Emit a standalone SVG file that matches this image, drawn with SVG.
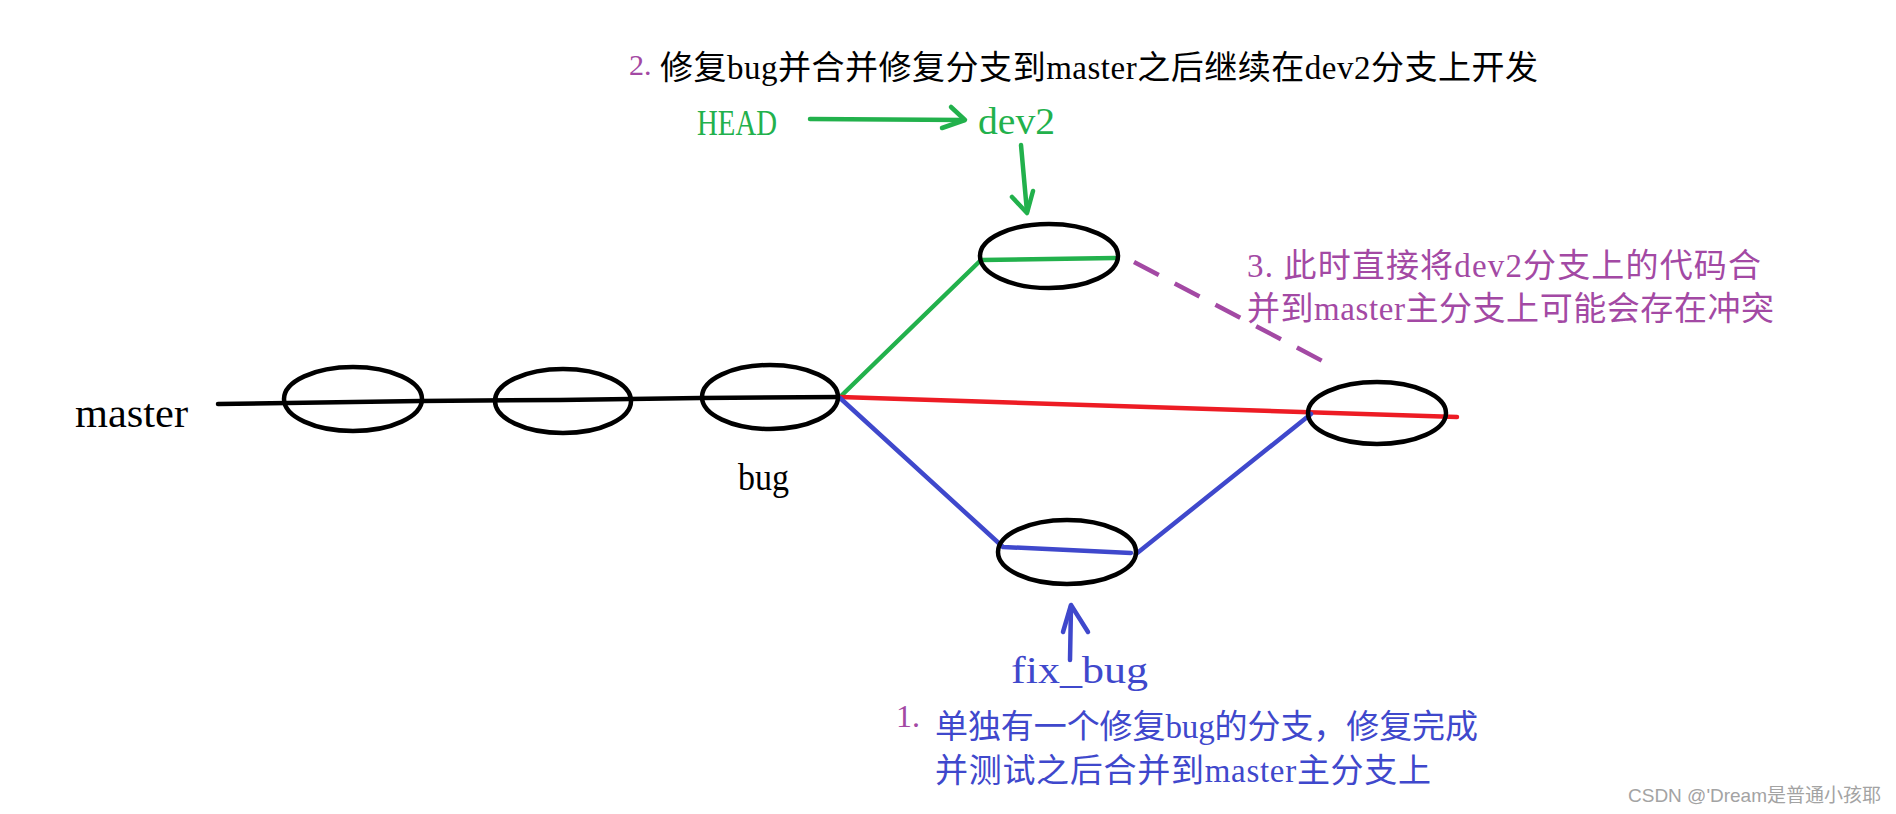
<svg xmlns="http://www.w3.org/2000/svg" width="1896" height="814" viewBox="0 0 1896 814">
<style>
.bg{fill:#ffffff}
.node{fill:none;stroke:#000000;stroke-width:4.5}
.ln{fill:none;stroke-width:4.5;stroke-linecap:round;stroke-linejoin:round}
.blk{stroke:#000000}
.grn{stroke:#22b14c}
.red{stroke:#ed1c24}
.blu{stroke:#3f48cc}
.pur{stroke:#a349a4;stroke-dasharray:28 18;stroke-linecap:butt}
.t{font-family:"Liberation Serif","Noto Sans CJK SC",serif}
.lbl{font-family:"Liberation Serif","Noto Sans CJK SC",serif}
.wm{font-family:"Liberation Sans","Noto Sans CJK SC",sans-serif;font-size:19px;fill:#a3a3a3}
</style>
<rect class="bg" x="0" y="0" width="1896" height="814"/>
<g id="connectors">
  <polyline class="ln blk" points="218,404 420,401 560,400 700,398 840,397"/>
  <polyline class="ln grn" points="840,397 981,260 1115,258"/>
  <polyline class="ln red" points="840,397 1457,417"/>
  <polyline class="ln blu" points="840,398 1003,547 1131,553"/>
  <polyline class="ln blu" points="1136,554 1311,414"/>
  <line class="ln pur" x1="1134" y1="262" x2="1330" y2="365"/>
  <line class="ln grn" x1="810" y1="119" x2="964" y2="120"/>
  <polyline class="ln grn" points="951,107 965,120 942,128"/>
  <line class="ln grn" x1="1021" y1="145" x2="1027" y2="212"/>
  <polyline class="ln grn" points="1012,197 1027,213 1033,191"/>
  <line class="ln blu" x1="1070" y1="660" x2="1071" y2="606"/>
  <polyline class="ln blu" points="1063,632 1071,605 1088,632"/>
</g>
<g id="c1"><ellipse class="node" cx="353" cy="399" rx="69" ry="32"/></g>
<g id="c2"><ellipse class="node" cx="563" cy="401" rx="68" ry="32"/></g>
<g id="c3-bug"><ellipse class="node" cx="770" cy="397" rx="68" ry="32"/></g>
<g id="c-dev2"><ellipse class="node" cx="1049" cy="256" rx="69" ry="32"/></g>
<g id="c-merge"><ellipse class="node" cx="1377" cy="413" rx="69" ry="31"/></g>
<g id="c-fixbug"><ellipse class="node" cx="1067" cy="552" rx="69" ry="32"/></g>
<g id="labels">
  <text class="lbl" x="75" y="427" font-size="40" textLength="113" lengthAdjust="spacingAndGlyphs" fill="#000000">master</text>
  <text class="lbl" x="738" y="490" font-size="37" textLength="51" lengthAdjust="spacingAndGlyphs" fill="#000000">bug</text>
  <text class="lbl" x="697" y="135" font-size="36" textLength="80" lengthAdjust="spacingAndGlyphs" fill="#22b14c">HEAD</text>
  <text class="lbl" x="978" y="134" font-size="37" textLength="77" lengthAdjust="spacingAndGlyphs" fill="#22b14c">dev2</text>
  <text class="lbl" x="1011" y="683" font-size="38" textLength="137" lengthAdjust="spacingAndGlyphs" fill="#3f48cc">fix_bug</text>
</g>
<g id="note2">
  <text class="t" x="629" y="75" font-size="30" fill="#a349a4">2.</text>
  <text class="t" x="660" y="79" font-size="33" textLength="878" fill="#000000">修复bug并合并修复分支到master之后继续在dev2分支上开发</text>
</g>
<g id="note3">
  <text class="t" x="1247" y="277" font-size="33" textLength="514" fill="#a349a4">3. 此时直接将dev2分支上的代码合</text>
  <text class="t" x="1247" y="320" font-size="33" textLength="527" fill="#a349a4">并到master主分支上可能会存在冲突</text>
</g>
<g id="note1">
  <text class="t" x="896" y="727" font-size="32" fill="#a349a4">1.</text>
  <text class="t" x="935" y="738" font-size="33" textLength="543" fill="#3f48cc">单独有一个修复bug的分支，修复完成</text>
  <text class="t" x="935" y="782" font-size="33" textLength="496" fill="#3f48cc">并测试之后合并到master主分支上</text>
</g>
<text class="wm" x="1628" y="802" textLength="253">CSDN @'Dream是普通小孩耶</text>
</svg>
